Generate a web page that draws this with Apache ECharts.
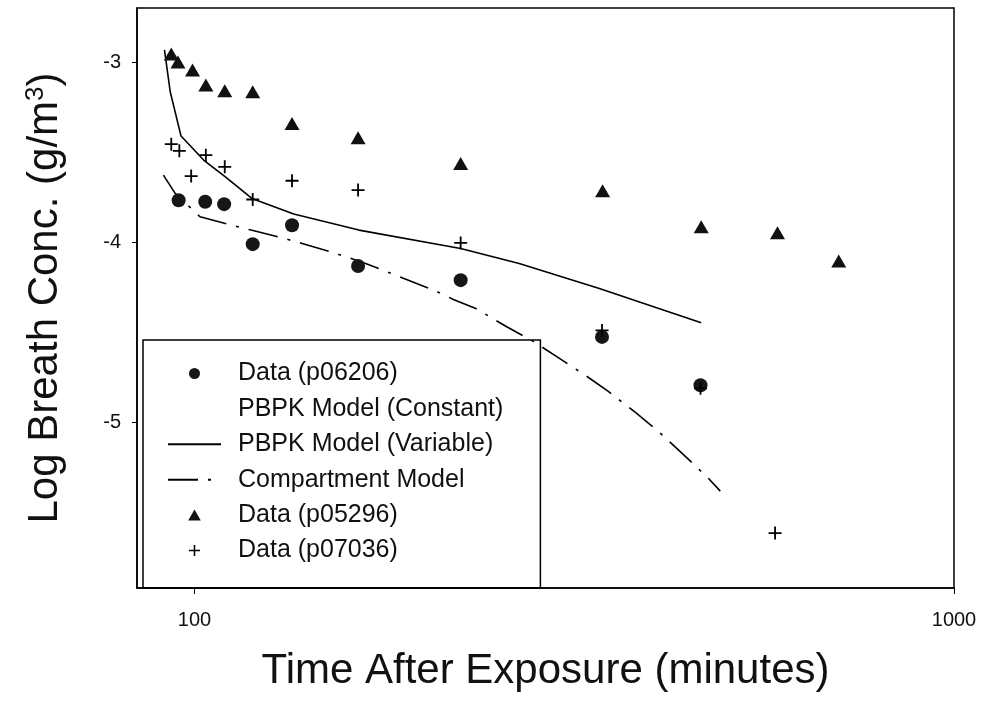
<!DOCTYPE html>
<html>
<head>
<meta charset="utf-8">
<title>Log Breath Conc.</title>
<script src="https://cdn.jsdelivr.net/npm/echarts@6/dist/echarts.min.js"></script>
<style>
    html, body { margin: 0; padding: 0; background: #fff; }
    #main { width: 985px; height: 703px; }
</style>
</head>
<body>
<div id="main"></div>
<script>
//数据 p06206 (圆点)
var p06206Time = [95.3, 103.3, 109.4, 119.3, 134.4, 164.2, 224.1, 344, 463.7];
var p06206Conc = [-3.767, -3.776, -3.789, -4.011, -3.906, -4.132, -4.211, -4.526, -4.794];
//数据 p05296 (三角)
var p05296Time = [93.2, 95.1, 99.4, 103.5, 109.6, 119.3, 134.4, 164.2, 224.1, 344.6, 464.7, 585.6, 705.1];
var p05296Conc = [-2.956, -3.0, -3.044, -3.128, -3.159, -3.165, -3.341, -3.42, -3.563, -3.715, -3.915, -3.948, -4.104];
//数据 p07036 (加号)
var p07036Time = [93.2, 95.5, 99.0, 103.5, 109.6, 119.3, 134.4, 164.2, 224.1, 344, 463.7, 581.3];
var p07036Conc = [-3.456, -3.493, -3.633, -3.517, -3.582, -3.763, -3.659, -3.711, -4.004, -4.49, -4.811, -5.615];
//PBPK Model (Variable)
var variableTime = [91.3, 92.9, 96.0, 102.8, 109.8, 119.0, 135.1, 164.6, 224.1, 267.6, 341.2, 464.7];
var variableConc = [-2.933, -3.165, -3.411, -3.544, -3.637, -3.757, -3.844, -3.933, -4.035, -4.118, -4.257, -4.448];
//Compartment Model
var compTime = [91.0, 94.3, 101.7, 112.0, 118.7, 129.1, 138.6, 152.6, 168.0, 188.7, 206.7, 219.2,
    234.6, 257.0, 278.6, 299.2, 328.3, 349.9, 381.4, 407.4, 446.1, 474.2, 492.4];
var compConc = [-3.628, -3.729, -3.859, -3.906, -3.933, -3.971, -4.007, -4.059, -4.118, -4.202, -4.267, -4.318,
    -4.368, -4.467, -4.548, -4.633, -4.744, -4.826, -4.948, -5.048, -5.202, -5.308, -5.382];
//PBPK Model (Constant) 图中看不到
var constantTime = [];
var constantConc = [];
//坐标轴刻度
var xTicks = [100, 1000];
var yTicks = [-5, -4, -3];

var FONT = "'Liberation Sans', Arial, sans-serif";
var PLUS = 'path://M4.3,0 H5.7 V4.3 H10 V5.7 H5.7 V10 H4.3 V5.7 H0 V4.3 H4.3 Z';
var TRI = 'path://M5,0 L10,8.7 L0,8.7 Z';
var CLEAR = 'rgba(0,0,0,0)';

function pairs(xs, ys) {
    var out = [];
    for (var i = 0; i < xs.length; i++) {
        out.push([xs[i], ys[i]]);
    }
    return out;
}

var myChart = echarts.init(document.getElementById('main'), null, {renderer: 'canvas'});
var option = {
    animation: false,
    backgroundColor: '#fff',
    grid: {
        show: true,
        left: 137,
        right: 31,
        top: 8,
        bottom: 115,
        borderColor: '#000',
        borderWidth: 1.5,
        backgroundColor: 'transparent'
    },
    legend: {
        orient: 'vertical',
        left: 143,
        top: 340,
        padding: [21, 37, 25, 24],
        itemWidth: 53,
        itemHeight: 11,
        itemGap: 10.4,
        borderColor: '#000',
        borderWidth: 1.5,
        selectedMode: false,
        textStyle: {
            fontFamily: FONT,
            fontSize: 25,
            lineHeight: 24,
            color: '#111',
            padding: [0, 0, 0, 12]
        },
        data: [
            {name: 'Data (p06206)'},
            {name: 'PBPK Model (Constant)'},
            {name: 'PBPK Model (Variable)'},
            {name: 'Compartment Model'},
            {name: 'Data (p05296)', icon: TRI},
            {name: 'Data (p07036)'}
        ]
    },
    xAxis: {
        type: 'log',
        logBase: 10,
        min: 84,
        max: 1000,
        name: 'Time After Exposure (minutes)',
        nameLocation: 'middle',
        nameGap: 62,
        nameTextStyle: {fontFamily: FONT, fontSize: 42, color: '#111'},
        axisLine: {lineStyle: {color: '#000', width: 1.5}},
        axisTick: {length: 6, lineStyle: {color: '#000'}, customValues: xTicks},
        axisLabel: {
            fontFamily: FONT, fontSize: 20, color: '#111', margin: 22, customValues: xTicks,
            formatter: function (v) { return String(Math.round(v)); }
        },
        splitLine: {show: false},
        minorTick: {show: false}
    },
    yAxis: {
        type: 'value',
        min: -5.92,
        max: -2.7,
        name: 'Log Breath Conc. (g/m{sup|3})',
        nameLocation: 'middle',
        nameGap: 70,
        nameTextStyle: {
            fontFamily: FONT, fontSize: 42, color: '#111',
            rich: {sup: {fontFamily: FONT, fontSize: 26, color: '#111', verticalAlign: 'top', padding: [0, 0, 18, 0]}}
        },
        axisLine: {lineStyle: {color: '#000', width: 1.5}},
        axisTick: {length: 5, lineStyle: {color: '#000'}, customValues: yTicks},
        axisLabel: {fontFamily: FONT, fontSize: 20, color: '#111', margin: 16, customValues: yTicks},
        splitLine: {show: false}
    },
    series: [
        {
            name: 'Data (p06206)',
            type: 'scatter',
            symbol: 'circle',
            symbolSize: 14,
            itemStyle: {color: '#161616', opacity: 1},
            data: pairs(p06206Time, p06206Conc),
            z: 4
        },
        {
            name: 'PBPK Model (Constant)',
            type: 'line',
            symbol: 'none',
            lineStyle: {color: CLEAR, width: 0},
            itemStyle: {color: CLEAR},
            data: pairs(constantTime, constantConc)
        },
        {
            name: 'PBPK Model (Variable)',
            type: 'line',
            symbol: 'none',
            lineStyle: {color: '#000', width: 1.6},
            itemStyle: {color: CLEAR},
            data: pairs(variableTime, variableConc),
            z: 2
        },
        {
            name: 'Compartment Model',
            type: 'line',
            symbol: 'none',
            lineStyle: {color: '#000', width: 1.6, type: [30, 10, 3, 10]},
            itemStyle: {color: CLEAR},
            data: pairs(compTime, compConc),
            z: 2
        },
        {
            name: 'Data (p05296)',
            type: 'scatter',
            symbol: TRI,
            symbolSize: [15, 13],
            itemStyle: {color: '#111', opacity: 1},
            data: pairs(p05296Time, p05296Conc),
            z: 4
        },
        {
            name: 'Data (p07036)',
            type: 'scatter',
            symbol: PLUS,
            symbolSize: 13,
            itemStyle: {color: '#000', opacity: 1},
            data: pairs(p07036Time, p07036Conc),
            z: 5
        }
    ]
};
myChart.setOption(option);
</script>
</body>
</html>
